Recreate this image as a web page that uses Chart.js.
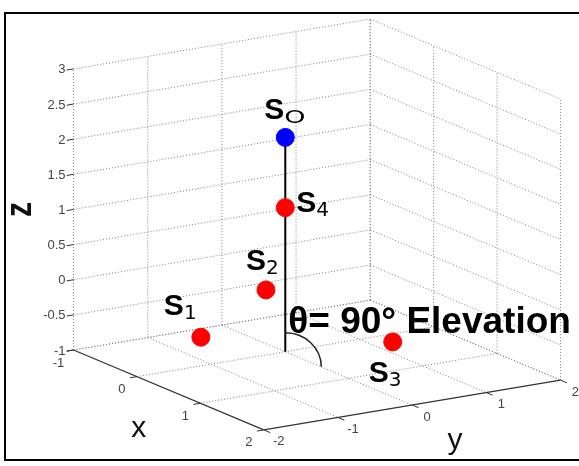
<!DOCTYPE html>
<html>
<head>
<meta charset="utf-8">
<script src="https://cdn.jsdelivr.net/npm/chart.js@4.4.1/dist/chart.umd.min.js"></script>
<style>
  html,body{margin:0;padding:0;overflow:hidden;background:#fff;}
  #wrap{position:relative;width:579px;height:466px;}
  #frame{position:absolute;left:4px;top:12px;width:640px;height:445px;border:2px solid #000;pointer-events:none;}
</style>
</head>
<body>
<div id="wrap"><canvas id="c"></canvas><div id="frame"></div></div>
<script>
/* ------------ data ------------ */
const SRC_SUB = ['O', '1', '2', '3', '4'];          // S_O, S_1 ... S_4
const SRC_X   = [0,    -0.77, 0.14, 0.22, 0];
const SRC_Y   = [0,    -0.48, -0.38, 1.26, 0];
const SRC_Z   = [2.05, -1,    0,     -1,   1.05];
const SRC_COL = ['#0000ff', '#ff0000', '#ff0000', '#ff0000', '#ff0000'];
const X_TICKS = [-1, 0, 1, 2];
const Y_TICKS = [-2, -1, 0, 1, 2];
const Z_TICKS = [-1, -0.5, 0, 0.5, 1, 1.5, 2, 2.5, 3];
const ELEV_DEG = 90;

/* ------------ 3-D view ------------ */
const LIM    = {x:[-1,2], y:[-2,2], z:[-1,3]};
const AZ     = 57.7 * Math.PI/180;
const EL     = 15.4 * Math.PI/180;
const ASPECT = [1, 0.986, 0.819];   // plot box aspect
const PX     = 356;                 // px per box unit
const CENTER = [317, 224.5];        // box centre on the canvas
const W = 579, H = 466;

function view(x, y, z){
  const nx = ((x-LIM.x[0])/(LIM.x[1]-LIM.x[0]) - 0.5) * ASPECT[0];
  const ny = ((y-LIM.y[0])/(LIM.y[1]-LIM.y[0]) - 0.5) * ASPECT[1];
  const nz = ((z-LIM.z[0])/(LIM.z[1]-LIM.z[0]) - 0.5) * ASPECT[2];
  return {
    x: Math.cos(AZ)*nx + Math.sin(AZ)*ny,
    y: -Math.sin(EL)*Math.sin(AZ)*nx + Math.sin(EL)*Math.cos(AZ)*ny + Math.cos(EL)*nz
  };
}

/* label placement (px from the marker) */
const LABEL_OFF = [[-21,-18], [-37,-22], [-20,-20], [-24,40], [11,4]];
const SUB_STRETCH = {O: 1.5};

const FONT = '"Liberation Sans", Arial, Helvetica, sans-serif';

/* ------------ box, grid and axes ------------ */
const box3d = {
  id: 'box3d',
  beforeDatasetsDraw(chart){
    const {ctx, scales:{x:sx, y:sy}} = chart;
    const P = (x,y,z) => { const v = view(x,y,z); return {x:sx.getPixelForValue(v.x), y:sy.getPixelForValue(v.y)}; };
    const seg = (a,b) => { ctx.beginPath(); ctx.moveTo(a.x,a.y); ctx.lineTo(b.x,b.y); ctx.stroke(); };
    const [x0,x1] = LIM.x, [y0,y1] = LIM.y, [z0,z1] = LIM.z;

    ctx.save();
    // dotted grid on the two back walls and the floor
    ctx.strokeStyle = '#808080'; ctx.lineWidth = 1; ctx.setLineDash([1,2]);
    Z_TICKS.forEach(z => { seg(P(x0,y0,z), P(x0,y1,z)); seg(P(x0,y1,z), P(x1,y1,z)); });
    Y_TICKS.forEach(y => { seg(P(x0,y,z0), P(x0,y,z1)); if(y>y0) seg(P(x0,y,z0), P(x1,y,z0)); });
    X_TICKS.forEach(x => { seg(P(x,y1,z0), P(x,y1,z1)); if(x<x1) seg(P(x,y0,z0), P(x,y1,z0)); });

    // x and y axis lines
    ctx.setLineDash([]); ctx.strokeStyle = '#333'; ctx.lineWidth = 1.2;
    seg(P(x0,y0,z0), P(x1,y0,z0));
    seg(P(x1,y0,z0), P(x1,y1,z0));

    // outward ticks
    const dir = (a,b,len) => { const d = Math.hypot(b.x-a.x, b.y-a.y); return {x:(b.x-a.x)/d*len, y:(b.y-a.y)/d*len}; };
    const minusY = dir(P(0,1,0), P(0,0,0), 7);
    const plusX  = dir(P(0,0,0), P(1,0,0), 7);
    ctx.lineWidth = 1;
    X_TICKS.forEach(x => { const p = P(x,y0,z0); seg(p, {x:p.x+minusY.x, y:p.y+minusY.y}); });
    Y_TICKS.forEach(y => { const p = P(x1,y,z0); seg(p, {x:p.x+plusX.x, y:p.y+plusX.y}); });
    Z_TICKS.forEach(z => { const p = P(x0,y0,z); seg(p, {x:p.x+minusY.x, y:p.y+minusY.y}); });

    // tick labels
    ctx.fillStyle = '#444'; ctx.font = '13px ' + FONT; ctx.textBaseline = 'middle';
    ctx.textAlign = 'right';
    Z_TICKS.forEach(z => { const p = P(x0,y0,z); ctx.fillText(String(z), p.x-8, p.y+1); });
    ctx.textAlign = 'center';
    X_TICKS.forEach(x => { const p = P(x,y0,z0); ctx.fillText(String(x), p.x-15, p.y+13); });
    Y_TICKS.forEach(y => { const p = P(x1,y,z0); ctx.fillText(String(y), p.x+15, p.y+12); });

    // axis labels
    ctx.fillStyle = '#111'; ctx.font = '30px ' + FONT; ctx.textBaseline = 'alphabetic';
    let p = P((x0+x1)/2, y0, z0); ctx.fillText('x', p.x-30, p.y+47);
    p = P(x1, (y0+y1)/2, z0);     ctx.fillText('y', p.x+43, p.y+44);
    p = P(x0, y0, (z0+z1)/2);
    ctx.translate(p.x-53, p.y); ctx.rotate(-Math.PI/2); ctx.scale(1, 1.25);
    ctx.font = 'bold 30px ' + FONT; ctx.textBaseline = 'middle'; ctx.fillText('z', 0, 0);
    ctx.restore();
  },
  afterDatasetsDraw(chart){
    const {ctx, scales:{x:sx, y:sy}} = chart;
    const P = (x,y,z) => { const v = view(x,y,z); return {x:sx.getPixelForValue(v.x), y:sy.getPixelForValue(v.y)}; };
    ctx.save();
    ctx.fillStyle = '#000'; ctx.textBaseline = 'alphabetic'; ctx.textAlign = 'left';

    // S labels with subscripts
    SRC_SUB.forEach((s,i) => {
      const p = P(SRC_X[i], SRC_Y[i], SRC_Z[i]);
      const lx = p.x + LABEL_OFF[i][0], ly = p.y + LABEL_OFF[i][1];
      ctx.font = 'bold 30px ' + FONT;
      ctx.fillText('S', lx, ly);
      const w = ctx.measureText('S').width;
      ctx.save();
      ctx.translate(lx + w, ly + 4);
      ctx.scale(SUB_STRETCH[s] || 1, 1);
      ctx.font = (SUB_STRETCH[s] ? '18px ' : '20px ') + '"DejaVu Sans", sans-serif';
      ctx.fillText(s, 0, 0);
      ctx.restore();
    });

    // elevation arc at the foot of the stem
    const base = P(SRC_X[0], SRC_Y[0], LIM.z[0]);
    ctx.strokeStyle = '#222'; ctx.lineWidth = 1.5;
    ctx.beginPath();
    ctx.ellipse(base.x, base.y+15, 36, 34, 0, -Math.PI/2, 0);
    ctx.stroke();

    ctx.font = 'bold 37px ' + FONT;
    ctx.fillText('\u03b8= ' + ELEV_DEG + '\u00b0 Elevation', base.x+3, base.y-19);
    ctx.restore();
  }
};

/* ------------ chart ------------ */
const pts  = SRC_SUB.map((s,i) => view(SRC_X[i], SRC_Y[i], SRC_Z[i]));
const stem = [view(SRC_X[0], SRC_Y[0], SRC_Z[0]), view(SRC_X[0], SRC_Y[0], LIM.z[0])];

new Chart(document.getElementById('c'), {
  type: 'scatter',
  data: {
    datasets: [
      {label:'sources', data:pts, order:0, pointRadius:9, pointBorderWidth:1,
       pointBackgroundColor:SRC_COL, pointBorderColor:SRC_COL},
      {label:'stem', data:stem, order:1, showLine:true, pointRadius:0,
       borderColor:'#000', borderWidth:2}
    ]
  },
  options: {
    responsive:true, maintainAspectRatio:false, animation:false, events:[],
    layout:{padding:0, autoPadding:false},
    plugins:{legend:{display:false}, tooltip:{enabled:false}},
    scales:{
      x:{type:'linear', display:false, min:-CENTER[0]/PX, max:(W-CENTER[0])/PX},
      y:{type:'linear', display:false, min:-(H-CENTER[1])/PX, max:CENTER[1]/PX}
    }
  },
  plugins:[box3d]
});
</script>
</body>
</html>
